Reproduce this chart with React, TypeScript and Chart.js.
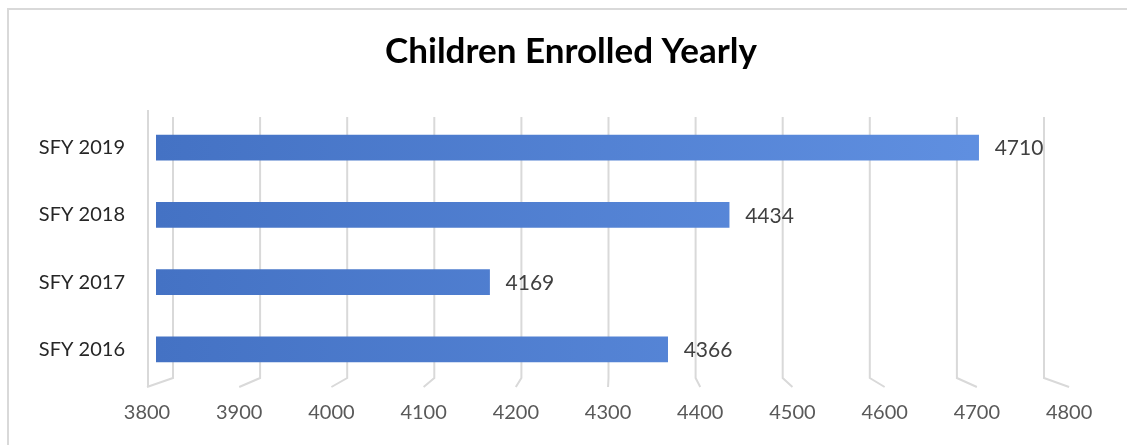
import React, { useEffect, useRef } from "react";
import { Chart, registerables } from "chart.js";

Chart.register(...registerables);

const categories = ["SFY 2019", "SFY 2018", "SFY 2017", "SFY 2016"];
const enrolled = [4710, 4434, 4169, 4366];
const axisMin = 3800;
const axisMax = 4800;
const axisStep = 100;
const chartTitle = "Children Enrolled Yearly";

const FONT = "Lato, 'Open Sans', sans-serif";

const perspectivePlugin = {
  id: "perspectiveGrid",
  beforeDatasetsDraw(chart: any) {
    const { ctx, chartArea } = chart;
    const x = chart.scales.x;
    const left = chartArea.left;
    const W = chartArea.right - chartArea.left;
    const top = chartArea.top + 3;
    const backBottom = chartArea.bottom - 5;
    const frontBottom = chartArea.bottom + 4;
    ctx.save();
    ctx.strokeStyle = "#d9d9d9";
    ctx.lineWidth = 2;
    const ticks = x.ticks.map((t: any) => t.value);
    ticks.forEach((v: number) => {
      const p = x.getPixelForValue(v);
      const t = (p - left) / W;
      const back = left + W * (0.0188 + 0.9635 * t);
      const front = left + W * (-0.00996 + 1.02 * t);
      ctx.beginPath();
      ctx.moveTo(back, top);
      ctx.lineTo(back, backBottom);
      ctx.lineTo(front, frontBottom);
      ctx.stroke();
    });
    // front-left axis edge
    const f0 = left + W * -0.00996 + 1;
    ctx.beginPath();
    ctx.moveTo(f0, chartArea.top - 4);
    ctx.lineTo(f0, frontBottom);
    ctx.stroke();
    // tick labels
    ctx.fillStyle = "#595959";
    ctx.font = `20px ${FONT}`;
    ctx.textAlign = "center";
    ctx.textBaseline = "middle";
    ticks.forEach((v: number) => {
      const p = x.getPixelForValue(v);
      const t = (p - left) / W;
      const front = left + W * (-0.00996 + 1.02 * t);
      ctx.fillText(String(v), front, chartArea.bottom + 30);
    });
    ctx.restore();
  },
  afterDatasetsDraw(chart: any) {
    const { ctx } = chart;
    const meta = chart.getDatasetMeta(0);
    ctx.save();
    ctx.fillStyle = "#404040";
    ctx.font = `21px ${FONT}`;
    ctx.textAlign = "left";
    ctx.textBaseline = "middle";
    meta.data.forEach((bar: any, i: number) => {
      ctx.fillText(String(chart.data.datasets[0].data[i]), bar.x + 16, bar.y + 1);
    });
    ctx.restore();
  },
};

export default function App() {
  const canvasRef = useRef<HTMLCanvasElement>(null);

  useEffect(() => {
    document.body.style.margin = "0";
    const canvas = canvasRef.current!;
    const chart = new Chart(canvas, {
      type: "bar",
      data: {
        labels: categories,
        datasets: [
          {
            data: enrolled,
            barThickness: 25,
            borderWidth: 0,
            borderSkipped: false,
            backgroundColor: (c: any) => {
              const area = c.chart.chartArea;
              if (!area) return "#4472C4";
              const g = c.chart.ctx.createLinearGradient(area.left, 0, area.right, 0);
              g.addColorStop(0, "#4472C4");
              g.addColorStop(1, "#6292E3");
              return g;
            },
          },
        ],
      },
      options: {
        indexAxis: "y",
        animation: false,
        responsive: false,
        maintainAspectRatio: false,
        layout: { padding: { left: 15, right: 0, top: 0, bottom: 0 } },
        plugins: {
          legend: { display: false },
          tooltip: { enabled: false },
          title: {
            display: true,
            text: chartTitle,
            color: "#000000",
            font: { family: FONT, size: 35, weight: "bold", lineHeight: 1.2 },
            padding: { top: 31, bottom: 41 },
          },
        },
        scales: {
          x: {
            type: "linear",
            min: axisMin,
            max: axisMax,
            ticks: { stepSize: axisStep, display: false },
            grid: { display: false, drawTicks: false },
            border: { display: false },
            afterFit: (s: any) => {
              s.height = 64;
            },
          },
          y: {
            ticks: {
              color: "#262626",
              padding: 31,
              font: { family: FONT, size: 20 },
            },
            grid: { display: false, drawTicks: false },
            border: { display: false },
            afterFit: (s: any) => {
              s.width = 141;
            },
          },
          yRight: {
            type: "category",
            position: "right",
            display: true,
            ticks: { display: false },
            grid: { display: false, drawTicks: false },
            border: { display: false },
            afterFit: (s: any) => {
              s.width = 67;
            },
          },
        },
      },
      plugins: [perspectivePlugin],
    });
    return () => chart.destroy();
  }, []);

  return (
    <div style={{ position: "relative", width: 1127, height: 447, background: "#ffffff" }}>
      <canvas ref={canvasRef} width={1127} height={447} style={{ display: "block" }} />
      <div
        style={{
          position: "absolute",
          left: 7,
          top: 8,
          right: 0,
          bottom: 2,
          borderLeft: "2px solid #d9d9d9",
          borderTop: "2px solid #d9d9d9",
          pointerEvents: "none",
        }}
      />
    </div>
  );
}
